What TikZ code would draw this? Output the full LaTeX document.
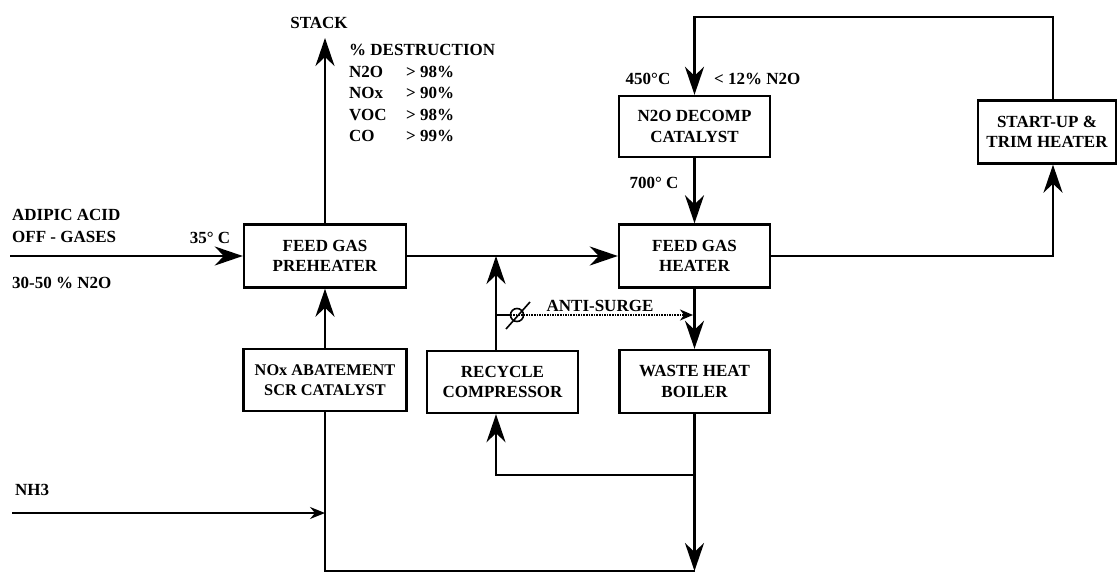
\documentclass[tikz,border=0pt]{standalone}
\usepackage{fontspec}
\setmainfont{Liberation Serif}
\usetikzlibrary{arrows.meta}

\begin{document}
\begin{tikzpicture}[x=1pt, y=-1pt,
    unit/.style={draw, line width=2.4pt, align=center, minimum height=63pt, inner sep=0pt,
        font=\bfseries\fontsize{17}{20.5}\selectfont},
    lbl/.style={inner sep=0pt, font=\bfseries\fontsize{17}{21.5}\selectfont},
    pipe/.style={line width=2.6pt},
    flow/.style={pipe, -{Stealth[length=28pt, width=19pt, inset=9pt]}},
    feedline/.style={line width=1.6pt, -{Stealth[length=15pt, width=12pt, inset=5pt]}},
    surge/.style={line width=1.6pt, densely dotted, -{Stealth[length=13pt, width=11pt, inset=4pt]}}]

    \useasboundingbox (0,0) rectangle (1119,573);

    % Process units
    \node[unit, minimum width=162pt] (preheat) at (325,256) {FEED GAS\\PREHEATER};
    \node[unit, minimum width=151pt] (heater) at (694.5,256) {FEED GAS\\HEATER};
    \node[unit, minimum width=151pt, minimum height=61pt] (decomp) at (694.5,126.5) {N2O DECOMP\\CATALYST};
    \node[unit, minimum width=138pt] (trim) at (1047,132) {START-UP \&\\TRIM HEATER};
    \node[unit, minimum width=163pt, minimum height=62pt, font=\bfseries\fontsize{16.3}{20.5}\selectfont]
        (scr) at (325,380) {NOx ABATEMENT\\SCR CATALYST};
    \node[unit, minimum width=151pt, minimum height=62pt] (comp) at (502.5,382) {RECYCLE\\COMPRESSOR};
    \node[unit, minimum width=150pt] (boiler) at (694.5,381.5) {WASTE HEAT\\BOILER};

    % Labels
    \node[lbl] (stack) at (319,23) {STACK};
    \node[lbl, anchor=north west, align=left] (destr) at (349,44)
        {\%\ DESTRUCTION\\
         \makebox[57pt][l]{N2O}> 98\%\\
         \makebox[57pt][l]{NOx}> 90\%\\
         \makebox[57pt][l]{VOC}> 98\%\\
         \makebox[57pt][l]{CO}> 99\%};
    \node[lbl, anchor=west, align=left] (adipic) at (12,226) {ADIPIC ACID\\OFF - GASES};
    \node[lbl] (inT) at (210,238) {35° C};
    \node[lbl, anchor=west] (inN) at (12,283) {30-50 \% N2O};
    \node[lbl] (decT) at (648,79) {450°C};
    \node[lbl, anchor=west] (decN) at (714,79) {< 12\% N2O};
    \node[lbl] (outT) at (654,183) {700° C};
    \node[lbl] (surgelbl) at (600,306) {ANTI-SURGE};
    \node[lbl] (nh3) at (32,490) {NH3};

    % Free ends and junctions
    \coordinate (feed) at (10,256);
    \coordinate (stk) at (325,38);
    \coordinate (rj) at (496,256);
    \coordinate (tx) at (1053,256);
    \coordinate (top) at (1053,17);
    \coordinate (as1) at (496,315);
    \coordinate (as2) at (693,315);
    \coordinate (rr) at (694.5,475);
    \coordinate (bot) at (694.5,571);
    \coordinate (nh) at (12,513);

    % Main gas path
    \draw[flow] (feed) -- (preheat.west);
    \draw[flow] (preheat.north) -- (stk);
    \draw[flow] (preheat.east) -- (heater.west);
    \draw[flow] (heater.east) -- (tx) -- (tx |- trim.south);
    \draw[flow] (tx |- trim.north) -- (top) -| (decomp.north);
    \draw[flow] (decomp.south) -- (heater.north);
    \draw[flow] (heater.south) -- (boiler.north);
    \draw[flow] (boiler.south) -- (bot);
    \draw[pipe] (bot) -- (bot -| scr.south) -- (scr.south);
    \draw[flow] (scr.north) -- (preheat.south);

    % Recycle loop
    \draw[flow] (rr) -| (rj |- comp.south);
    \draw[flow] (rj |- comp.north) -- (rj);

    % Anti-surge bypass with valve
    \draw[line width=1.6pt] (as1) -- ++(12,0);
    \draw[surge] (as1) ++(12,0) -- (as2);
    \draw[line width=1.6pt] (517,315) circle (6.5pt);
    \draw[line width=1.6pt] (506,329) -- (530,302);

    % Ammonia injection
    \draw[feedline] (nh) -- (nh -| scr.south);
\end{tikzpicture}
\end{document}
